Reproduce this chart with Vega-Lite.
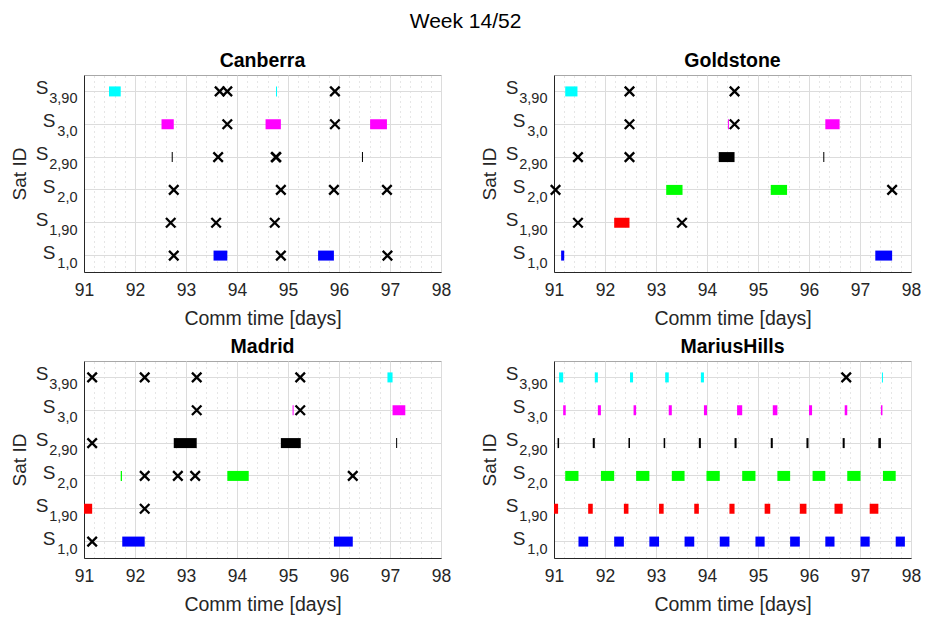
{
  "$schema": "https://vega.github.io/schema/vega-lite/v6.json",
  "padding": {"left": 9, "top": 11, "right": 5, "bottom": 5},
  "title": {"text": "Week 14/52", "fontSize": 21, "fontWeight": "normal", "color": "black", "anchor": "middle", "offset": 18, "font": "Liberation Sans"},
  "datasets": {
    "passes": [
      {"station": "Canberra", "sat": "S3,90", "start": 91.49, "end": 91.72},
      {"station": "Canberra", "sat": "S3,90", "start": 94.765, "end": 94.785},
      {"station": "Canberra", "sat": "S3,0", "start": 92.52, "end": 92.76},
      {"station": "Canberra", "sat": "S3,0", "start": 94.56, "end": 94.86},
      {"station": "Canberra", "sat": "S3,0", "start": 96.61, "end": 96.94},
      {"station": "Canberra", "sat": "S2,90", "start": 92.72, "end": 92.74},
      {"station": "Canberra", "sat": "S2,90", "start": 96.45, "end": 96.47},
      {"station": "Canberra", "sat": "S1,0", "start": 93.54, "end": 93.81},
      {"station": "Canberra", "sat": "S1,0", "start": 95.59, "end": 95.9},
      {"station": "Goldstone", "sat": "S3,90", "start": 91.22, "end": 91.46},
      {"station": "Goldstone", "sat": "S3,0", "start": 94.41, "end": 94.43},
      {"station": "Goldstone", "sat": "S3,0", "start": 96.32, "end": 96.6},
      {"station": "Goldstone", "sat": "S2,90", "start": 94.23, "end": 94.54},
      {"station": "Goldstone", "sat": "S2,90", "start": 96.28, "end": 96.3},
      {"station": "Goldstone", "sat": "S2,0", "start": 93.2, "end": 93.52},
      {"station": "Goldstone", "sat": "S2,0", "start": 95.25, "end": 95.57},
      {"station": "Goldstone", "sat": "S1,90", "start": 92.18, "end": 92.48},
      {"station": "Goldstone", "sat": "S1,0", "start": 91.14, "end": 91.2},
      {"station": "Goldstone", "sat": "S1,0", "start": 97.3, "end": 97.63},
      {"station": "Madrid", "sat": "S3,90", "start": 96.95, "end": 97.05},
      {"station": "Madrid", "sat": "S3,0", "start": 95.09, "end": 95.11},
      {"station": "Madrid", "sat": "S3,0", "start": 97.05, "end": 97.3},
      {"station": "Madrid", "sat": "S2,90", "start": 92.76, "end": 93.21},
      {"station": "Madrid", "sat": "S2,90", "start": 94.86, "end": 95.25},
      {"station": "Madrid", "sat": "S2,90", "start": 97.12, "end": 97.14},
      {"station": "Madrid", "sat": "S2,0", "start": 91.72, "end": 91.745},
      {"station": "Madrid", "sat": "S2,0", "start": 93.81, "end": 94.23},
      {"station": "Madrid", "sat": "S1,90", "start": 91.0, "end": 91.16},
      {"station": "Madrid", "sat": "S1,0", "start": 91.75, "end": 92.19},
      {"station": "Madrid", "sat": "S1,0", "start": 95.9, "end": 96.27},
      {"station": "MariusHills", "sat": "S3,90", "start": 91.1, "end": 91.18},
      {"station": "MariusHills", "sat": "S3,90", "start": 91.8, "end": 91.86},
      {"station": "MariusHills", "sat": "S3,90", "start": 92.49, "end": 92.55},
      {"station": "MariusHills", "sat": "S3,90", "start": 93.18, "end": 93.25},
      {"station": "MariusHills", "sat": "S3,90", "start": 93.88, "end": 93.94},
      {"station": "MariusHills", "sat": "S3,90", "start": 97.43, "end": 97.45},
      {"station": "MariusHills", "sat": "S3,0", "start": 91.18, "end": 91.23},
      {"station": "MariusHills", "sat": "S3,0", "start": 91.86, "end": 91.92},
      {"station": "MariusHills", "sat": "S3,0", "start": 92.56, "end": 92.61},
      {"station": "MariusHills", "sat": "S3,0", "start": 93.25, "end": 93.31},
      {"station": "MariusHills", "sat": "S3,0", "start": 93.94, "end": 94.0},
      {"station": "MariusHills", "sat": "S3,0", "start": 94.59, "end": 94.69},
      {"station": "MariusHills", "sat": "S3,0", "start": 95.29, "end": 95.38},
      {"station": "MariusHills", "sat": "S3,0", "start": 96.0, "end": 96.06},
      {"station": "MariusHills", "sat": "S3,0", "start": 96.7, "end": 96.75},
      {"station": "MariusHills", "sat": "S3,0", "start": 97.41, "end": 97.44},
      {"station": "MariusHills", "sat": "S2,90", "start": 91.07, "end": 91.1},
      {"station": "MariusHills", "sat": "S2,90", "start": 91.76, "end": 91.8},
      {"station": "MariusHills", "sat": "S2,90", "start": 92.46, "end": 92.49},
      {"station": "MariusHills", "sat": "S2,90", "start": 93.15, "end": 93.18},
      {"station": "MariusHills", "sat": "S2,90", "start": 93.84, "end": 93.88},
      {"station": "MariusHills", "sat": "S2,90", "start": 94.54, "end": 94.58},
      {"station": "MariusHills", "sat": "S2,90", "start": 95.25, "end": 95.29},
      {"station": "MariusHills", "sat": "S2,90", "start": 95.95, "end": 95.99},
      {"station": "MariusHills", "sat": "S2,90", "start": 96.66, "end": 96.7},
      {"station": "MariusHills", "sat": "S2,90", "start": 97.36, "end": 97.41},
      {"station": "MariusHills", "sat": "S2,0", "start": 91.22, "end": 91.48},
      {"station": "MariusHills", "sat": "S2,0", "start": 91.92, "end": 92.18},
      {"station": "MariusHills", "sat": "S2,0", "start": 92.61, "end": 92.87},
      {"station": "MariusHills", "sat": "S2,0", "start": 93.31, "end": 93.56},
      {"station": "MariusHills", "sat": "S2,0", "start": 93.99, "end": 94.25},
      {"station": "MariusHills", "sat": "S2,0", "start": 94.69, "end": 94.95},
      {"station": "MariusHills", "sat": "S2,0", "start": 95.38, "end": 95.63},
      {"station": "MariusHills", "sat": "S2,0", "start": 96.07, "end": 96.32},
      {"station": "MariusHills", "sat": "S2,0", "start": 96.75, "end": 97.01},
      {"station": "MariusHills", "sat": "S2,0", "start": 97.45, "end": 97.7},
      {"station": "MariusHills", "sat": "S1,90", "start": 91.0, "end": 91.08},
      {"station": "MariusHills", "sat": "S1,90", "start": 91.67, "end": 91.76},
      {"station": "MariusHills", "sat": "S1,90", "start": 92.37, "end": 92.46},
      {"station": "MariusHills", "sat": "S1,90", "start": 93.06, "end": 93.15},
      {"station": "MariusHills", "sat": "S1,90", "start": 93.75, "end": 93.84},
      {"station": "MariusHills", "sat": "S1,90", "start": 94.44, "end": 94.54},
      {"station": "MariusHills", "sat": "S1,90", "start": 95.13, "end": 95.24},
      {"station": "MariusHills", "sat": "S1,90", "start": 95.82, "end": 95.95},
      {"station": "MariusHills", "sat": "S1,90", "start": 96.5, "end": 96.66},
      {"station": "MariusHills", "sat": "S1,90", "start": 97.19, "end": 97.36},
      {"station": "MariusHills", "sat": "S1,0", "start": 91.48, "end": 91.67},
      {"station": "MariusHills", "sat": "S1,0", "start": 92.18, "end": 92.37},
      {"station": "MariusHills", "sat": "S1,0", "start": 92.87, "end": 93.06},
      {"station": "MariusHills", "sat": "S1,0", "start": 93.56, "end": 93.75},
      {"station": "MariusHills", "sat": "S1,0", "start": 94.25, "end": 94.44},
      {"station": "MariusHills", "sat": "S1,0", "start": 94.95, "end": 95.13},
      {"station": "MariusHills", "sat": "S1,0", "start": 95.63, "end": 95.82},
      {"station": "MariusHills", "sat": "S1,0", "start": 96.32, "end": 96.5},
      {"station": "MariusHills", "sat": "S1,0", "start": 97.01, "end": 97.19},
      {"station": "MariusHills", "sat": "S1,0", "start": 97.7, "end": 97.88}
    ],
    "crosses": [
      {"station": "Canberra", "sat": "S3,90", "t": 93.66},
      {"station": "Canberra", "sat": "S3,90", "t": 93.81},
      {"station": "Canberra", "sat": "S3,90", "t": 95.92},
      {"station": "Canberra", "sat": "S3,0", "t": 93.81},
      {"station": "Canberra", "sat": "S3,0", "t": 95.92},
      {"station": "Canberra", "sat": "S2,90", "t": 93.63},
      {"station": "Canberra", "sat": "S2,90", "t": 94.76},
      {"station": "Canberra", "sat": "S2,90", "t": 94.77},
      {"station": "Canberra", "sat": "S2,0", "t": 92.76},
      {"station": "Canberra", "sat": "S2,0", "t": 94.86},
      {"station": "Canberra", "sat": "S2,0", "t": 95.9},
      {"station": "Canberra", "sat": "S2,0", "t": 96.94},
      {"station": "Canberra", "sat": "S1,90", "t": 92.7},
      {"station": "Canberra", "sat": "S1,90", "t": 93.59},
      {"station": "Canberra", "sat": "S1,90", "t": 94.74},
      {"station": "Canberra", "sat": "S1,0", "t": 92.76},
      {"station": "Canberra", "sat": "S1,0", "t": 94.86},
      {"station": "Canberra", "sat": "S1,0", "t": 96.95},
      {"station": "Goldstone", "sat": "S3,90", "t": 92.48},
      {"station": "Goldstone", "sat": "S3,90", "t": 94.54},
      {"station": "Goldstone", "sat": "S3,0", "t": 92.48},
      {"station": "Goldstone", "sat": "S3,0", "t": 94.54},
      {"station": "Goldstone", "sat": "S2,90", "t": 91.47},
      {"station": "Goldstone", "sat": "S2,90", "t": 92.48},
      {"station": "Goldstone", "sat": "S2,0", "t": 91.03},
      {"station": "Goldstone", "sat": "S2,0", "t": 97.63},
      {"station": "Goldstone", "sat": "S1,90", "t": 91.47},
      {"station": "Goldstone", "sat": "S1,90", "t": 93.51},
      {"station": "Madrid", "sat": "S3,90", "t": 91.16},
      {"station": "Madrid", "sat": "S3,90", "t": 92.19},
      {"station": "Madrid", "sat": "S3,90", "t": 93.21},
      {"station": "Madrid", "sat": "S3,90", "t": 95.24},
      {"station": "Madrid", "sat": "S3,0", "t": 93.21},
      {"station": "Madrid", "sat": "S3,0", "t": 95.24},
      {"station": "Madrid", "sat": "S2,90", "t": 91.16},
      {"station": "Madrid", "sat": "S2,0", "t": 92.19},
      {"station": "Madrid", "sat": "S2,0", "t": 92.84},
      {"station": "Madrid", "sat": "S2,0", "t": 93.18},
      {"station": "Madrid", "sat": "S2,0", "t": 96.27},
      {"station": "Madrid", "sat": "S1,90", "t": 92.19},
      {"station": "Madrid", "sat": "S1,0", "t": 91.16},
      {"station": "MariusHills", "sat": "S3,90", "t": 96.73}
    ]
  },
  "concat": [
    {
      "title": "Canberra",
      "width": 357, "height": 197,
      "layer": [
        {
          "data": {"name": "passes"},
          "transform": [{"filter": "datum.station == 'Canberra'"}],
          "mark": {"type": "rule", "strokeWidth": 10, "strokeCap": "butt"},
          "encoding": {
            "x": {"field": "start", "type": "quantitative", "scale": {"domain": [91, 98], "nice": false, "zero": false},
                  "axis": {"values": [91, 92, 93, 94, 95, 96, 97, 98], "grid": true, "title": "Comm time [days]", "labelFontSize": 17.5, "titleFontSize": 19.5, "labelPadding": 9, "titlePadding": 11, "labelFlush": false}},
            "x2": {"field": "end"},
            "y": {"field": "sat", "type": "nominal", "scale": {"domain": ["S3,90", "S3,0", "S2,90", "S2,0", "S1,90", "S1,0"]},
                  "axis": {"grid": true, "title": "Sat ID", "titleFontSize": 19, "titlePadding": 6, "labelExpr": "'S'", "labelFontSize": 19, "labelOffset": -3,
                           "labelPadding": {"condition": {"test": "indexof(datum.value, ',90') >= 0", "value": 36}, "value": 29}}},
            "color": {"field": "sat", "type": "nominal", "legend": null,
                      "scale": {"domain": ["S1,0", "S1,90", "S2,0", "S2,90", "S3,0", "S3,90"], "range": ["#0000ff", "#ff0000", "#00ff00", "#000000", "#ff00ff", "#00ffff"]}}
          }
        },
        {
          "data": {"name": "crosses"},
          "transform": [{"filter": "datum.station == 'Canberra'"}],
          "mark": {"type": "point", "shape": "M-1,-1L1,1M1,-1L-1,1", "filled": false, "stroke": "black", "strokeWidth": 2.3, "size": 90, "opacity": 1},
          "encoding": {
            "x": {"field": "t", "type": "quantitative", "scale": {"domain": [91, 98], "nice": false, "zero": false},
                  "axis": {"orient": "bottom", "values": [91.2, 91.4, 91.6, 91.8, 92.2, 92.4, 92.6, 92.8, 93.2, 93.4, 93.6, 93.8, 94.2, 94.4, 94.6, 94.8, 95.2, 95.4, 95.6, 95.8, 96.2, 96.4, 96.6, 96.8, 97.2, 97.4, 97.6, 97.8], "grid": true, "gridDash": [1, 4], "gridColor": "#cccccc", "labels": false, "domain": false, "title": null}},
            "y": {"field": "sat", "type": "nominal", "scale": {"domain": ["S3,90", "S3,0", "S2,90", "S2,0", "S1,90", "S1,0"]},
                  "axis": {"orient": "left", "grid": false, "domain": false, "title": null, "labelExpr": "slice(datum.label, 1)", "labelFontSize": 14.5, "labelPadding": 7, "labelOffset": 8}}
          }
        }
      ],
      "resolve": {"axis": {"x": "independent", "y": "independent"}}
    },
    {
      "title": "Goldstone",
      "width": 357, "height": 197,
      "layer": [
        {
          "data": {"name": "passes"},
          "transform": [{"filter": "datum.station == 'Goldstone'"}],
          "mark": {"type": "rule", "strokeWidth": 10, "strokeCap": "butt"},
          "encoding": {
            "x": {"field": "start", "type": "quantitative", "scale": {"domain": [91, 98], "nice": false, "zero": false},
                  "axis": {"values": [91, 92, 93, 94, 95, 96, 97, 98], "grid": true, "title": "Comm time [days]", "labelFontSize": 17.5, "titleFontSize": 19.5, "labelPadding": 9, "titlePadding": 11, "labelFlush": false}},
            "x2": {"field": "end"},
            "y": {"field": "sat", "type": "nominal", "scale": {"domain": ["S3,90", "S3,0", "S2,90", "S2,0", "S1,90", "S1,0"]},
                  "axis": {"grid": true, "title": "Sat ID", "titleFontSize": 19, "titlePadding": 6, "labelExpr": "'S'", "labelFontSize": 19, "labelOffset": -3,
                           "labelPadding": {"condition": {"test": "indexof(datum.value, ',90') >= 0", "value": 36}, "value": 29}}},
            "color": {"field": "sat", "type": "nominal", "legend": null,
                      "scale": {"domain": ["S1,0", "S1,90", "S2,0", "S2,90", "S3,0", "S3,90"], "range": ["#0000ff", "#ff0000", "#00ff00", "#000000", "#ff00ff", "#00ffff"]}}
          }
        },
        {
          "data": {"name": "crosses"},
          "transform": [{"filter": "datum.station == 'Goldstone'"}],
          "mark": {"type": "point", "shape": "M-1,-1L1,1M1,-1L-1,1", "filled": false, "stroke": "black", "strokeWidth": 2.3, "size": 90, "opacity": 1},
          "encoding": {
            "x": {"field": "t", "type": "quantitative", "scale": {"domain": [91, 98], "nice": false, "zero": false},
                  "axis": {"orient": "bottom", "values": [91.2, 91.4, 91.6, 91.8, 92.2, 92.4, 92.6, 92.8, 93.2, 93.4, 93.6, 93.8, 94.2, 94.4, 94.6, 94.8, 95.2, 95.4, 95.6, 95.8, 96.2, 96.4, 96.6, 96.8, 97.2, 97.4, 97.6, 97.8], "grid": true, "gridDash": [1, 4], "gridColor": "#cccccc", "labels": false, "domain": false, "title": null}},
            "y": {"field": "sat", "type": "nominal", "scale": {"domain": ["S3,90", "S3,0", "S2,90", "S2,0", "S1,90", "S1,0"]},
                  "axis": {"orient": "left", "grid": false, "domain": false, "title": null, "labelExpr": "slice(datum.label, 1)", "labelFontSize": 14.5, "labelPadding": 7, "labelOffset": 8}}
          }
        }
      ],
      "resolve": {"axis": {"x": "independent", "y": "independent"}}
    },
    {
      "title": "Madrid",
      "width": 357, "height": 197,
      "layer": [
        {
          "data": {"name": "passes"},
          "transform": [{"filter": "datum.station == 'Madrid'"}],
          "mark": {"type": "rule", "strokeWidth": 10, "strokeCap": "butt"},
          "encoding": {
            "x": {"field": "start", "type": "quantitative", "scale": {"domain": [91, 98], "nice": false, "zero": false},
                  "axis": {"values": [91, 92, 93, 94, 95, 96, 97, 98], "grid": true, "title": "Comm time [days]", "labelFontSize": 17.5, "titleFontSize": 19.5, "labelPadding": 9, "titlePadding": 11, "labelFlush": false}},
            "x2": {"field": "end"},
            "y": {"field": "sat", "type": "nominal", "scale": {"domain": ["S3,90", "S3,0", "S2,90", "S2,0", "S1,90", "S1,0"]},
                  "axis": {"grid": true, "title": "Sat ID", "titleFontSize": 19, "titlePadding": 6, "labelExpr": "'S'", "labelFontSize": 19, "labelOffset": -3,
                           "labelPadding": {"condition": {"test": "indexof(datum.value, ',90') >= 0", "value": 36}, "value": 29}}},
            "color": {"field": "sat", "type": "nominal", "legend": null,
                      "scale": {"domain": ["S1,0", "S1,90", "S2,0", "S2,90", "S3,0", "S3,90"], "range": ["#0000ff", "#ff0000", "#00ff00", "#000000", "#ff00ff", "#00ffff"]}}
          }
        },
        {
          "data": {"name": "crosses"},
          "transform": [{"filter": "datum.station == 'Madrid'"}],
          "mark": {"type": "point", "shape": "M-1,-1L1,1M1,-1L-1,1", "filled": false, "stroke": "black", "strokeWidth": 2.3, "size": 90, "opacity": 1},
          "encoding": {
            "x": {"field": "t", "type": "quantitative", "scale": {"domain": [91, 98], "nice": false, "zero": false},
                  "axis": {"orient": "bottom", "values": [91.2, 91.4, 91.6, 91.8, 92.2, 92.4, 92.6, 92.8, 93.2, 93.4, 93.6, 93.8, 94.2, 94.4, 94.6, 94.8, 95.2, 95.4, 95.6, 95.8, 96.2, 96.4, 96.6, 96.8, 97.2, 97.4, 97.6, 97.8], "grid": true, "gridDash": [1, 4], "gridColor": "#cccccc", "labels": false, "domain": false, "title": null}},
            "y": {"field": "sat", "type": "nominal", "scale": {"domain": ["S3,90", "S3,0", "S2,90", "S2,0", "S1,90", "S1,0"]},
                  "axis": {"orient": "left", "grid": false, "domain": false, "title": null, "labelExpr": "slice(datum.label, 1)", "labelFontSize": 14.5, "labelPadding": 7, "labelOffset": 8}}
          }
        }
      ],
      "resolve": {"axis": {"x": "independent", "y": "independent"}}
    },
    {
      "title": "MariusHills",
      "width": 357, "height": 197,
      "layer": [
        {
          "data": {"name": "passes"},
          "transform": [{"filter": "datum.station == 'MariusHills'"}],
          "mark": {"type": "rule", "strokeWidth": 10, "strokeCap": "butt"},
          "encoding": {
            "x": {"field": "start", "type": "quantitative", "scale": {"domain": [91, 98], "nice": false, "zero": false},
                  "axis": {"values": [91, 92, 93, 94, 95, 96, 97, 98], "grid": true, "title": "Comm time [days]", "labelFontSize": 17.5, "titleFontSize": 19.5, "labelPadding": 9, "titlePadding": 11, "labelFlush": false}},
            "x2": {"field": "end"},
            "y": {"field": "sat", "type": "nominal", "scale": {"domain": ["S3,90", "S3,0", "S2,90", "S2,0", "S1,90", "S1,0"]},
                  "axis": {"grid": true, "title": "Sat ID", "titleFontSize": 19, "titlePadding": 6, "labelExpr": "'S'", "labelFontSize": 19, "labelOffset": -3,
                           "labelPadding": {"condition": {"test": "indexof(datum.value, ',90') >= 0", "value": 36}, "value": 29}}},
            "color": {"field": "sat", "type": "nominal", "legend": null,
                      "scale": {"domain": ["S1,0", "S1,90", "S2,0", "S2,90", "S3,0", "S3,90"], "range": ["#0000ff", "#ff0000", "#00ff00", "#000000", "#ff00ff", "#00ffff"]}}
          }
        },
        {
          "data": {"name": "crosses"},
          "transform": [{"filter": "datum.station == 'MariusHills'"}],
          "mark": {"type": "point", "shape": "M-1,-1L1,1M1,-1L-1,1", "filled": false, "stroke": "black", "strokeWidth": 2.3, "size": 90, "opacity": 1},
          "encoding": {
            "x": {"field": "t", "type": "quantitative", "scale": {"domain": [91, 98], "nice": false, "zero": false},
                  "axis": {"orient": "bottom", "values": [91.2, 91.4, 91.6, 91.8, 92.2, 92.4, 92.6, 92.8, 93.2, 93.4, 93.6, 93.8, 94.2, 94.4, 94.6, 94.8, 95.2, 95.4, 95.6, 95.8, 96.2, 96.4, 96.6, 96.8, 97.2, 97.4, 97.6, 97.8], "grid": true, "gridDash": [1, 4], "gridColor": "#cccccc", "labels": false, "domain": false, "title": null}},
            "y": {"field": "sat", "type": "nominal", "scale": {"domain": ["S3,90", "S3,0", "S2,90", "S2,0", "S1,90", "S1,0"]},
                  "axis": {"orient": "left", "grid": false, "domain": false, "title": null, "labelExpr": "slice(datum.label, 1)", "labelFontSize": 14.5, "labelPadding": 7, "labelOffset": 8}}
          }
        }
      ],
      "resolve": {"axis": {"x": "independent", "y": "independent"}}
    }
  ],
  "columns": 2,
  "bounds": "flush",
  "spacing": {"row": 89, "column": 113},
  "config": {
    "font": "Liberation Sans",
    "view": {"stroke": "#a8a8a8", "strokeWidth": 1},
    "axis": {"labelFont": "Liberation Sans", "titleFont": "Liberation Sans", "labelColor": "#262626", "titleColor": "#262626", "titleFontWeight": "normal", "domainColor": "#262626", "domainWidth": 1, "gridColor": "#dcdcdc", "gridWidth": 1, "ticks": false},
    "title": {"font": "Liberation Sans", "fontSize": 19.5, "fontWeight": "bold", "color": "black", "offset": 4}
  }
}
